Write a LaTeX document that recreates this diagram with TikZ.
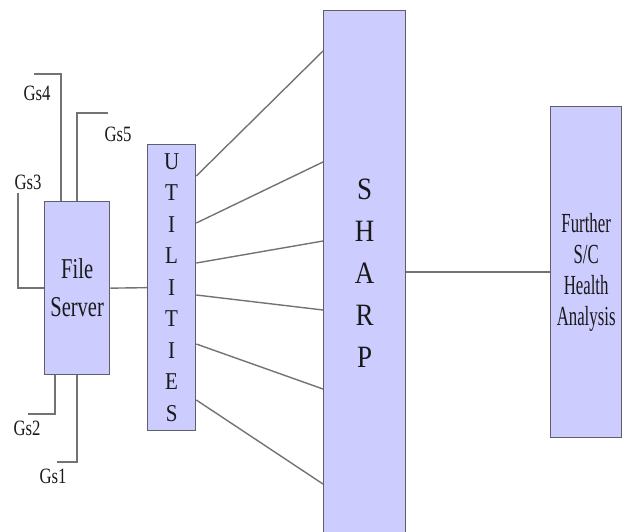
\documentclass[tikz,border=0pt]{standalone}
\usepackage{fontspec}
\setmainfont{Liberation Serif}
\usetikzlibrary{calc}
\definecolor{boxfill}{RGB}{204,204,255}
\definecolor{boxline}{RGB}{95,95,105}
\definecolor{wire}{RGB}{115,115,115}
\definecolor{ink}{RGB}{25,25,25}
% tall, slightly narrow lettering
\newcommand{\tallw}[2]{\scalebox{#1}[1.15]{#2}}
\begin{document}
\begin{tikzpicture}[x=1pt,y=-1pt,
  unit/.style={draw=boxline,fill=boxfill,line width=1.3pt,inner sep=0pt,
    text=ink,align=center,anchor=north west},
  link/.style={draw=wire,line width=1.4pt},
  tag/.style={text=ink,inner sep=0pt,font=\fontsize{19}{19}\selectfont}]
\useasboundingbox (0,0) rectangle (632,531);

% processing blocks
\node[unit,minimum width=65pt,minimum height=173pt,
  font=\fontsize{25}{38}\selectfont] (fs) at (44,201)
  {\tallw{0.82}{File}\\\tallw{0.82}{Server}};
\node[unit,minimum width=48pt,minimum height=286pt,
  font=\fontsize{21}{31.5}\selectfont] (ut) at (147,144)
  {\tallw{1}{U}\\\tallw{1}{T}\\\tallw{1}{I}\\\tallw{1}{L}\\\tallw{1}{I}\\
   \tallw{1}{T}\\\tallw{1}{I}\\\tallw{1}{E}\\\tallw{1}{S}};
\node[unit,minimum width=82pt,minimum height=526pt,
  font=\fontsize{27}{42}\selectfont] (sharp) at (323,10)
  {\tallw{1}{S}\\\tallw{1}{H}\\\tallw{1}{A}\\\tallw{1}{R}\\\tallw{1}{P}};
\node[unit,minimum width=71pt,minimum height=331pt,
  font=\fontsize{24}{31}\selectfont] (fa) at (550,106)
  {\tallw{0.7}{Further}\\\tallw{0.7}{S/C}\\
   \tallw{0.7}{Health}\\\tallw{0.7}{Analysis}};

% ground station feeds
\coordinate (g4) at (34,74);
\coordinate (g5) at (108,113);
\coordinate (g3) at (18,193);
\coordinate (g2) at (28,414);
\coordinate (g1) at (57,462);
\draw[link] ($(fs.north west)+(17,0)$) |- (g4);
\draw[link] ($(fs.north west)+(33,0)$) |- (g5);
\draw[link] (fs.west) -| (g3);
\draw[link] ($(fs.south west)+(11,0)$) |- (g2);
\draw[link] ($(fs.south west)+(33,0)$) |- (g1);

\node[tag] (l4) at (37,93) {\tallw{0.88}{Gs4}};
\node[tag] (l5) at (118,134) {\tallw{0.88}{Gs5}};
\node[tag] (l3) at (28,182) {\tallw{0.88}{Gs3}};
\node[tag] (l2) at (27,428) {\tallw{0.88}{Gs2}};
\node[tag] (l1) at (53,476) {\tallw{0.88}{Gs1}};

% data flow between blocks
\draw[link] (fs.east) -- (ut.west);
\foreach \a/\b in {32/41,79/152,119/231,151/300,200/379,256/474}
  \draw[link] ($(ut.north east)+(0,\a)$) -- ($(sharp.north west)+(0,\b)$);
\draw[link] (fa.west -| sharp.east) -- (fa.west);
\end{tikzpicture}
\end{document}
